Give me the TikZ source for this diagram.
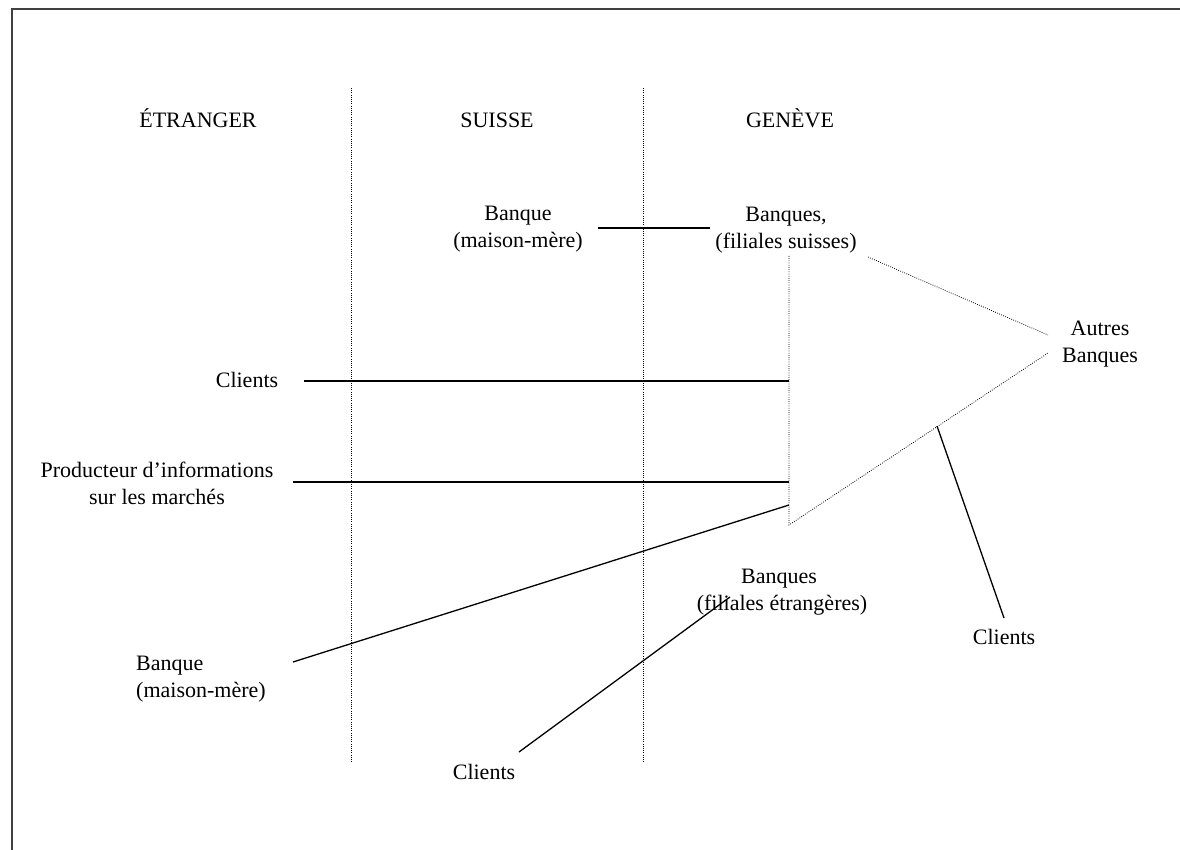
\documentclass[tikz,border=0pt]{standalone}
\usepackage{fontspec}
\setmainfont{Liberation Serif}
\begin{document}
\begin{tikzpicture}[x=1pt,y=-1pt,
  lbl/.style={inner sep=0pt,font=\fontsize{22}{27}\selectfont,align=center},
  head/.style={lbl,anchor=base},
  link/.style={line width=1.3pt,black},
  zone/.style={line width=0.8pt,black,dash pattern=on 0.8pt off 1.4pt},
  frame/.style={line width=2pt,black!75}]
\useasboundingbox (0,0) rectangle (1180,850);
% frame (top and left edges)
\draw[frame] (12,850) -- (12,9) -- (1180,9);

% zone separators
\draw[zone] (351,88) -- (351,762);
\draw[zone] (643,88) -- (643,762);

% zone headings
\node[head] (etr) at (198,128) {ÉTRANGER};
\node[head] (sui) at (497,128) {SUISSE};
\node[head] (gen) at (790,128) {GENÈVE};

% institutions
\node[lbl] (bmS) at (518,229) {Banque\\(maison-mère)};
\node[lbl] (bfS) at (786,230) {Banques,\\(filiales suisses)};
\node[lbl] (autres) at (1100,344) {Autres\\Banques};
\node[lbl] (cliE) at (247,380) {Clients};
\node[lbl] (prod) at (157,483) {Producteur d’informations\\sur les marchés};
\node[lbl,align=left,anchor=west] (bmE) at (136,679) {Banque\\(maison-mère)};
\node[lbl] (bfE) at (782,592) {Banques\hspace*{6pt}\\(filiales étrangères)};
\node[lbl] (cliB) at (484,772) {Clients};
\node[lbl] (cliR) at (1004,637) {Clients};

% Genève bank network
\coordinate (gTop) at (789,256);
\coordinate (gBot) at (789,525);
\coordinate (aUp) at (1048,335);
\coordinate (aLo) at (1048,353);
\coordinate (sNet) at (868,257);
\draw[zone] (gTop) -- (gBot) -- (aLo);
\draw[zone] (sNet) -- (aUp);

% connections
\coordinate (gCli) at (789,381);
\coordinate (gProd) at (789,482);
\coordinate (gBm) at (789,505);
\coordinate (cliRTop) at (937,426);
\draw[link] (598,228) -- (710,228);
\draw[link] (304,381) -- (gCli);
\draw[link] (293,482) -- (gProd);
\draw[link] (293,662) -- (gBm);
\draw[link] (730,597) -- (519,752);
\draw[link] (cliRTop) -- (1004,618);
\end{tikzpicture}
\end{document}
